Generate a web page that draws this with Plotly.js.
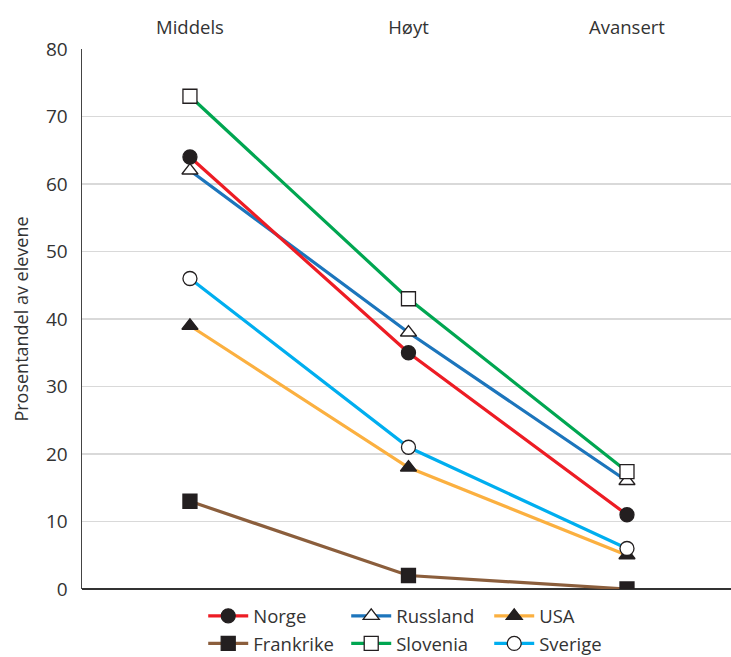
<!DOCTYPE html>
<html><head><meta charset="utf-8">
<script src="https://cdn.plot.ly/plotly-3.0.1.min.js"></script>
<style>html,body{margin:0;padding:0;background:#fff;}</style>
</head><body>
<div id="chart" style="width:731px;height:657px;"></div>
<script>
const categories = ["Middels", "Høyt", "Avansert"];
const norge = [64, 35, 11];
const russland = [62, 38, 16];
const usa = [39, 18, 5];
const frankrike = [13, 2, 0];
const slovenia = [73, 43, 17.4];
const sverige = [46, 21, 6];
const yTicks = [0, 10, 20, 30, 40, 50, 60, 70, 80];

const dark = "#231f20";
function tr(name, y, color, symbol, fill, legend, rank) {
  return {
    type: "scatter", mode: "lines+markers", name: name, x: categories, y: y,
    line: {color: color, width: 3.2},
    marker: {symbol: symbol, size: 14, color: fill, line: {color: dark, width: 1.3}},
    legend: legend, legendrank: rank, hoverinfo: "skip"
  };
}
const data = [
  tr("Frankrike", frankrike, "#8b5e3c", "square", dark, "legend2", 1),
  tr("USA", usa, "#fbb040", "triangle-up", dark, "legend", 3),
  tr("Sverige", sverige, "#00aeef", "circle", "#ffffff", "legend2", 3),
  tr("Russland", russland, "#1c75bc", "triangle-up", "#ffffff", "legend", 2),
  tr("Norge", norge, "#ed1c24", "circle", dark, "legend", 1),
  tr("Slovenia", slovenia, "#00a651", "square", "#ffffff", "legend2", 2)
];
const font = {family: "Open Sans, Noto Sans, sans-serif", color: "#333333"};
const legBase = {
  orientation: "h", xanchor: "left", yanchor: "middle", xref: "container", yref: "container",
  font: {family: font.family, size: 18.5, color: "#333333"},
  itemwidth: 40,
  entrywidth: 88, entrywidthmode: "pixels", bgcolor: "rgba(0,0,0,0)", traceorder: "normal"
};
const layout = {
  width: 731, height: 657,
  margin: {l: 82, r: 0, t: 49, b: 68},
  paper_bgcolor: "#ffffff", plot_bgcolor: "#ffffff",
  font: font,
  showlegend: true,
  xaxis: {
    type: "category", side: "top", range: [-0.494, 2.476],
    showgrid: false, zeroline: false, showline: false, ticks: "",
    tickfont: {size: 18.5, color: "#333333"}, ticklabelstandoff: 10, fixedrange: true
  },
  yaxis: {
    range: [0, 80], tickvals: yTicks, ticktext: yTicks.map(String),
    showgrid: true, gridcolor: "#d9d9d9", gridwidth: 1.3,
    zeroline: true, zerolinecolor: "#333333", zerolinewidth: 1.3,
    showline: true, linecolor: "#444444", linewidth: 1.5,
    ticks: "", tickfont: {size: 19, color: "#333333"}, ticklabelstandoff: 9,
    title: {text: "Prosentandel av elevene", font: {size: 18, color: "#333333"}, standoff: 12},
    fixedrange: true
  },
  legend: Object.assign({}, legBase, {x: 0.278, y: 0.062}),
  legend2: Object.assign({}, legBase, {x: 0.278, y: 0.02})
};
Plotly.newPlot("chart", data, layout, {displayModeBar: false, staticPlot: true});
</script>
</body></html>
